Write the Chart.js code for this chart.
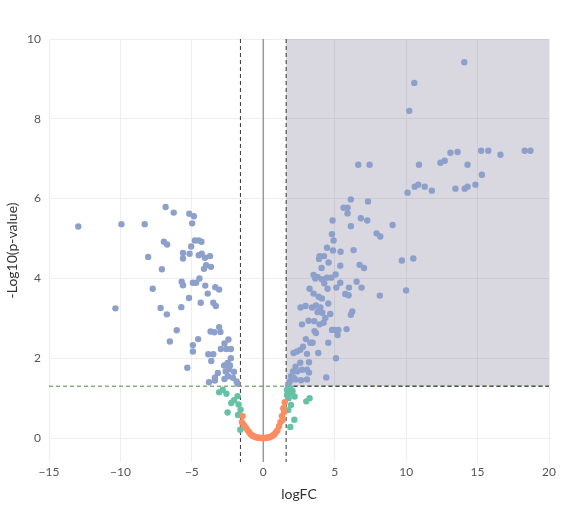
<!DOCTYPE html><html><head><script src="https://cdn.jsdelivr.net/npm/chart.js@4"></script>
<style>body{margin:0;background:#fff}#w{width:573px;height:507px}</style></head><body><div id="w"><canvas id="c"></canvas></div>
<script>
const blueX=[-12.95,-9.93,-8.3,-10.35,-6.84,-6.27,-5.18,-4.86,-4.98,-8.06,-7.1,-7.74,-6.96,-6.73,-5.62,-5.62,-5.16,-5.05,-4.79,-4.52,-4.33,-4.52,-4.31,-4.08,-3.73,-4.15,-4.0,-3.66,-5.71,-5.62,-4.93,-4.7,-4.47,-4.06,-3.36,-3.09,-3.89,-5.2,-4.38,-3.5,-3.32,-7.19,-5.74,-6.75,-6.06,-6.54,-4.93,-4.93,-4.56,-3.69,-3.43,-3.09,-3.0,-2.44,-2.72,-2.97,-2.58,-2.27,-3.85,-3.5,-3.64,-2.27,-5.32,-2.74,-2.5,-2.33,-3.18,-2.63,-2.4,-2.05,-3.39,-3.39,-2.72,-2.47,-2.12,-1.87,-3.8,-1.8,
6.65,7.44,6.13,7.33,5.62,5.9,5.9,6.83,7.28,4.85,6.13,9.05,7.93,8.19,4.81,4.92,4.46,4.88,5.41,6.32,3.94,4.25,3.9,4.57,5.39,6.74,7.05,4.08,3.52,3.8,4.1,4.46,4.76,5.06,3.64,4.27,5.39,6.53,3.24,3.52,4.5,5.11,6.0,6.88,3.87,4.1,5.74,5.97,8.16,4.55,2.61,2.96,3.41,3.69,4.0,3.8,4.13,4.69,6.23,6.13,4.34,2.71,3.17,3.57,3.94,4.22,3.59,3.69,4.81,4.97,5.25,5.83,5.2,2.98,3.29,3.45,2.78,2.59,2.36,2.12,3.06,3.85,4.55,5.09,2.59,3.2,2.26,2.08,2.36,2.71,3.06,3.2,1.94,2.12,2.24,2.64,3.06,4.41,1.84,1.75,
14.07,10.57,10.22,13.1,13.6,15.25,15.75,16.6,18.3,18.7,12.4,12.7,14.3,10.9,10.1,10.6,10.85,11.3,11.8,13.45,14.1,14.3,14.85,15.3,9.7,10.5,10.0];
const blueY=[5.30,5.36,5.36,3.25,5.79,5.65,5.62,5.56,5.38,4.54,4.23,3.74,4.92,4.85,4.64,4.5,4.62,4.8,4.95,4.95,4.92,4.58,4.62,4.52,4.56,4.24,4.33,4.29,3.92,3.83,3.89,3.89,4.0,3.82,3.78,3.72,3.62,3.51,3.39,3.39,3.31,3.26,3.28,3.1,2.7,2.42,2.33,2.17,2.48,2.67,2.65,2.78,2.66,2.47,2.37,2.23,2.23,2.23,2.1,2.1,1.93,2.0,1.76,1.82,1.88,1.82,1.63,1.67,1.72,1.66,1.51,1.44,1.48,1.55,1.51,1.42,1.4,1.36,
6.85,6.85,5.98,5.93,5.77,5.77,5.63,5.51,5.45,5.45,5.31,5.34,5.13,5.05,5.11,4.95,4.77,4.7,4.67,4.71,4.56,4.56,4.49,4.4,4.32,4.34,4.26,4.26,4.09,4.04,3.98,4.02,4.02,4.1,4.0,3.88,3.89,3.92,3.74,3.62,3.74,3.77,3.77,3.77,3.54,3.5,3.61,3.58,3.57,3.37,3.27,3.31,3.27,3.32,3.27,3.16,3.14,3.11,3.17,3.09,3.01,2.85,2.94,2.93,2.85,2.89,2.68,2.63,2.71,2.71,2.71,2.73,2.58,2.48,2.39,2.39,2.29,2.21,2.17,2.13,2.11,2.13,2.39,2.0,1.89,1.9,1.79,1.67,1.67,1.71,1.71,1.64,1.55,1.51,1.47,1.45,1.47,1.52,1.41,1.33,
9.42,8.9,8.2,7.15,7.17,7.2,7.2,7.1,7.2,7.2,6.9,6.95,6.85,6.85,6.15,6.3,6.35,6.3,6.2,6.25,6.25,6.3,6.35,6.6,4.45,4.5,3.7];
const greenX=[-3.09,-2.84,-2.58,-2.24,-2.05,-1.8,-2.5,-1.73,-1.59,-1.77,-1.61,1.84,2.0,2.19,1.77,3.24,3.01,1.94,1.75,2.17,1.89,1.66,1.66,1.9,2.05];
const greenY=[1.15,1.21,1.11,0.88,0.95,1.05,0.64,0.84,0.71,0.58,0.21,1.2,1.12,1.04,1.0,1.0,0.92,0.83,0.7,0.46,0.28,1.21,1.08,1.25,1.18];
const orangeX=[-1.45,-1.5,-1.4,-1.3,-1.2,-1.1,-1.0,-0.9,-0.8,-0.7,-0.6,-0.5,-0.4,-0.3,-0.2,-0.1,0,0.1,0.2,0.3,0.4,0.5,0.6,0.7,0.8,0.9,1.0,1.1,1.2,1.3,1.4,1.5,1.45,1.35];
const orangeY=[0.55,0.4,0.35,0.3,0.25,0.2,0.15,0.1,0.07,0.05,0.03,0.02,0.01,0.01,0,0,0,0,0.01,0.01,0.02,0.03,0.05,0.07,0.1,0.15,0.2,0.3,0.4,0.55,0.75,0.9,0.65,0.45];
const xTicks=[-15,-10,-5,0,5,10,15,20];
const fcCut=1.6, pCut=1.3;
const pts=(xs,ys)=>xs.map((x,i)=>({x,y:ys[i]}));
const deco={id:'deco',beforeDatasetsDraw(ch){const {ctx,scales:{x,y}}=ch;ctx.save();
ctx.fillStyle='rgba(120,110,140,0.28)';const x0=x.getPixelForValue(fcCut),x1=x.getPixelForValue(20),y0=y.getPixelForValue(10),y1=y.getPixelForValue(pCut);ctx.fillRect(x0,y0,x1-x0,y1-y0);
ctx.strokeStyle='#999';ctx.lineWidth=1.5;ctx.beginPath();const zx=x.getPixelForValue(0);ctx.moveTo(zx,ch.chartArea.top);ctx.lineTo(zx,ch.chartArea.bottom);ctx.stroke();
ctx.setLineDash([4,3]);ctx.strokeStyle='#333';ctx.lineWidth=1;[-fcCut,fcCut].forEach(v=>{const p=x.getPixelForValue(v);ctx.beginPath();ctx.moveTo(p,ch.chartArea.top);ctx.lineTo(p,ch.chartArea.bottom);ctx.stroke();});
ctx.strokeStyle='#4a8a3a';const hp=y.getPixelForValue(pCut);ctx.beginPath();ctx.moveTo(ch.chartArea.left,hp);ctx.lineTo(ch.chartArea.right,hp);ctx.stroke();
ctx.beginPath();ctx.strokeStyle='#333';ctx.moveTo(x0,hp);ctx.lineTo(x1,hp);ctx.stroke();ctx.restore();}};
new Chart(document.getElementById('c'),{type:'scatter',
data:{datasets:[
{data:pts(orangeX,orangeY),backgroundColor:'#fc8d62',pointRadius:3.2,borderWidth:0},
{data:pts(greenX,greenY),backgroundColor:'#66c2a5',pointRadius:3.2,borderWidth:0},
{data:pts(blueX,blueY),backgroundColor:'#8da0cb',pointRadius:3.2,borderWidth:0}]},
options:{responsive:true,maintainAspectRatio:false,animation:false,layout:{padding:{top:39,right:24}},
plugins:{legend:{display:false},tooltip:{enabled:false}},
scales:{x:{type:'linear',min:-15,max:20,afterBuildTicks(a){a.ticks=xTicks.map(v=>({value:v}));},afterFit(a){a.height=45;},
 grid:{color:'#eee',drawTicks:false},border:{display:false},ticks:{padding:3,color:'#555',font:{family:'Lato',size:12},callback:v=>v<0?'−'+(-v):v},
 title:{display:true,text:'logFC',color:'#333',font:{family:'Lato',size:14},padding:{top:4}}},
y:{min:-0.6,max:10,afterBuildTicks(a){a.ticks=[0,2,4,6,8,10].map(v=>({value:v}));},afterFit(a){a.width=49;},
 grid:{color:'#eee',drawTicks:false},border:{display:false},ticks:{padding:8,color:'#555',font:{family:'Lato',size:12}},
 title:{display:true,text:'-Log10(p-value)',color:'#333',font:{family:'Lato',size:14},padding:{bottom:2}}}}},
plugins:[deco]});
</script></body></html>
